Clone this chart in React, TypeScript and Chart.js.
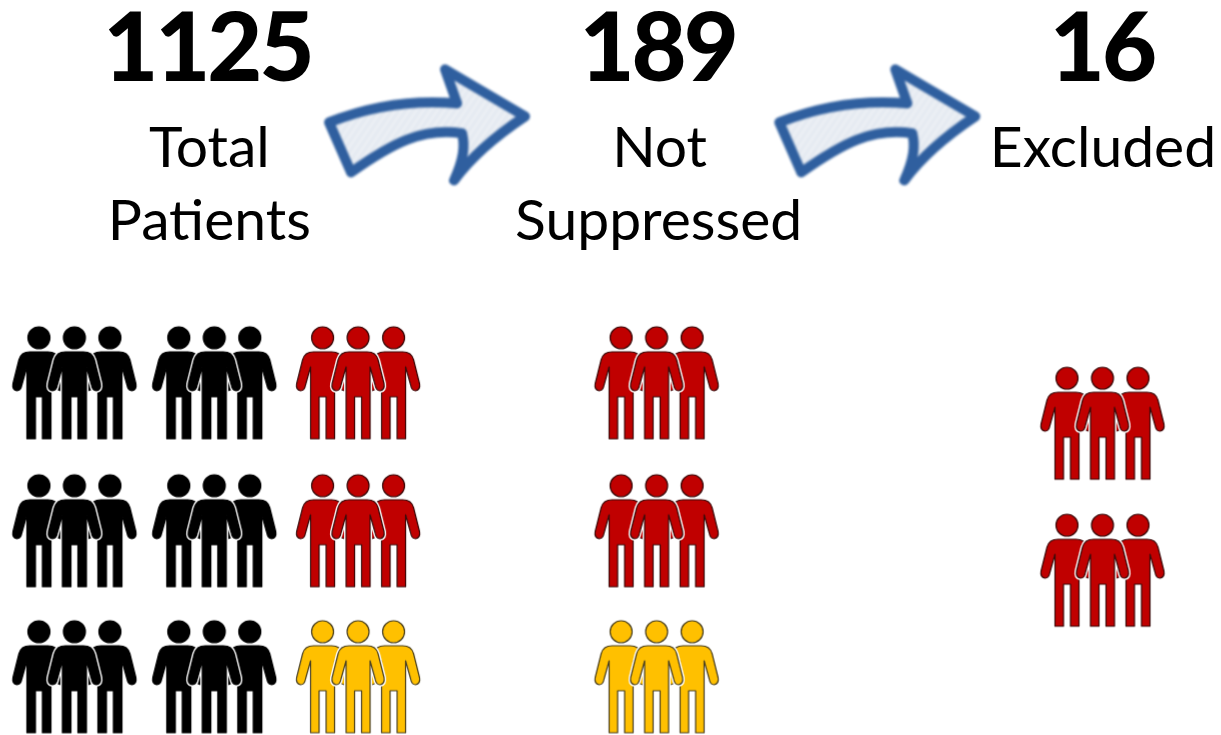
import React, { useEffect, useRef } from "react";
import { Chart, registerables } from "chart.js";

Chart.register(...registerables);

// Icon groups (one group of three figures per mark)
const blackX = [70, 70, 70, 211, 211, 211];
const blackY = [383, 533, 681, 383, 533, 681];
const redX = [356, 356, 657, 657, 1106.5, 1106.5];
const redY = [383, 533, 383, 533, 424, 573];
const goldX = [356, 657];
const goldY = [681, 681];
const arrowX = [425.5, 879.5];
const arrowY = [120, 120];

// Text
const numberLabels = ["1125", "189", "16"];
const numberX = [204, 658, 1106];
const numberY = [77, 77, 77];
const captionLabels = ["Total", "Patients", "Not", "Suppressed", "Excluded"];
const captionX = [206, 206, 660, 659, 1107];
const captionY = [164, 238, 164, 238, 164];

const FONT = "Lato, Carlito, sans-serif";

function personPath(c: CanvasRenderingContext2D, cx: number, top: number) {
  const p = (dx: number, y: number) => [cx + dx, top + y] as const;
  c.beginPath();
  c.moveTo(...p(-9, 25));
  c.lineTo(...p(9, 25));
  c.quadraticCurveTo(...p(18, 25), ...p(20, 33));
  c.lineTo(...p(26, 57));
  c.quadraticCurveTo(...p(27, 63), ...p(22, 64));
  c.quadraticCurveTo(...p(18, 64), ...p(17, 58));
  c.lineTo(...p(12, 40));
  c.lineTo(...p(12, 112));
  c.lineTo(...p(3.5, 112));
  c.lineTo(...p(3.5, 70));
  c.lineTo(...p(-3.5, 70));
  c.lineTo(...p(-3.5, 112));
  c.lineTo(...p(-12, 112));
  c.lineTo(...p(-12, 40));
  c.lineTo(...p(-17, 58));
  c.quadraticCurveTo(...p(-18, 64), ...p(-22, 64));
  c.quadraticCurveTo(...p(-27, 63), ...p(-26, 57));
  c.lineTo(...p(-20, 33));
  c.quadraticCurveTo(...p(-18, 25), ...p(-9, 25));
  c.closePath();
  c.moveTo(cx + 11, top + 11);
  c.arc(cx, top + 11, 11, 0, Math.PI * 2);
}

function groupIcon(fill: string, edge: string): HTMLCanvasElement {
  const cv = document.createElement("canvas");
  cv.width = 140;
  cv.height = 124;
  const c = cv.getContext("2d")!;
  c.filter = "blur(0.7px)";
  c.lineJoin = "round";
  const top = 6;
  for (const dx of [-35.5, 35.5, 0]) {
    const cx = 70 + dx;
    personPath(c, cx, top);
    c.strokeStyle = "#ffffff";
    c.lineWidth = 4;
    c.stroke();
    c.fillStyle = fill;
    c.fill();
    c.strokeStyle = edge;
    c.lineWidth = 1.2;
    c.stroke();
  }
  return cv;
}

function arrowIcon(): HTMLCanvasElement {
  const cv = document.createElement("canvas");
  cv.width = 230;
  cv.height = 140;
  const c = cv.getContext("2d")!;
  c.filter = "blur(0.8px)";
  // geometry in a 230x140 box
  const trace = () => {
    c.beginPath();
    c.moveTo(17, 69);
    c.bezierCurveTo(65, 50, 110, 47, 145, 50);
    c.lineTo(133, 16);
    c.lineTo(213, 63);
    c.bezierCurveTo(180, 85, 158, 105, 142, 127);
    c.bezierCurveTo(152, 105, 153, 92, 150, 80);
    c.bezierCurveTo(110, 74, 80, 90, 39, 119);
    c.closePath();
  };
  trace();
  c.fillStyle = "#e6ebf2";
  c.fill();
  c.save();
  trace();
  c.clip();
  c.strokeStyle = "rgba(255,255,255,0.45)";
  c.lineWidth = 1.5;
  for (let i = -120; i < 240; i += 7) {
    c.beginPath();
    c.moveTo(i, 140);
    c.lineTo(i + 95, 0);
    c.stroke();
  }
  c.restore();
  trace();
  c.strokeStyle = "#2f5f9f";
  c.lineWidth = 10;
  c.lineJoin = "round";
  c.stroke();
  return cv;
}

const textPlugin = {
  id: "infographicText",
  afterDatasetsDraw(chart: any) {
    const { ctx, scales } = chart;
    ctx.save();
    ctx.fillStyle = "#000000";
    ctx.textAlign = "center";
    ctx.textBaseline = "alphabetic";
    ctx.font = `900 95px ${FONT}`;
    ctx.letterSpacing = "-3px";
    numberLabels.forEach((t, i) => {
      ctx.fillText(t, scales.x.getPixelForValue(numberX[i]), scales.y.getPixelForValue(numberY[i]));
    });
    ctx.letterSpacing = "0px";
    ctx.font = `400 57px ${FONT}`;
    captionLabels.forEach((t, i) => {
      ctx.fillText(t, scales.x.getPixelForValue(captionX[i]), scales.y.getPixelForValue(captionY[i]));
    });
    ctx.restore();
  },
};

export default function App() {
  const ref = useRef<HTMLCanvasElement>(null);
  useEffect(() => {
    const zip = (xs: number[], ys: number[]) => xs.map((x, i) => ({ x, y: ys[i] }));
    const series = (label: string, xs: number[], ys: number[], style: HTMLCanvasElement) => ({
      label,
      data: zip(xs, ys),
      pointStyle: style,
      showLine: false,
      clip: false as const,
    });
    const chart = new Chart(ref.current!, {
      type: "scatter",
      data: {
        datasets: [
          series("Arrows", arrowX, arrowY, arrowIcon()),
          series("Black figures", blackX, blackY, groupIcon("#000000", "#000000")),
          series("Red figures", redX, redY, groupIcon("#c00000", "#3a0a0a")),
          series("Gold figures", goldX, goldY, groupIcon("#ffc000", "#4a4020")),
        ],
      },
      options: {
        animation: false,
        responsive: false,
        events: [],
        layout: { padding: 0 },
        plugins: { legend: { display: false }, tooltip: { enabled: false } },
        scales: {
          x: { type: "linear", min: 0, max: 1221, display: false },
          y: { type: "linear", min: 0, max: 735, reverse: true, display: false },
        },
      },
      plugins: [textPlugin],
    });
    return () => chart.destroy();
  }, []);
  return (
    <div style={{ position: "fixed", left: 0, top: 0, width: 1221, height: 735, background: "#fff" }}>
      <canvas ref={ref} width={1221} height={735} style={{ display: "block" }} />
    </div>
  );
}
